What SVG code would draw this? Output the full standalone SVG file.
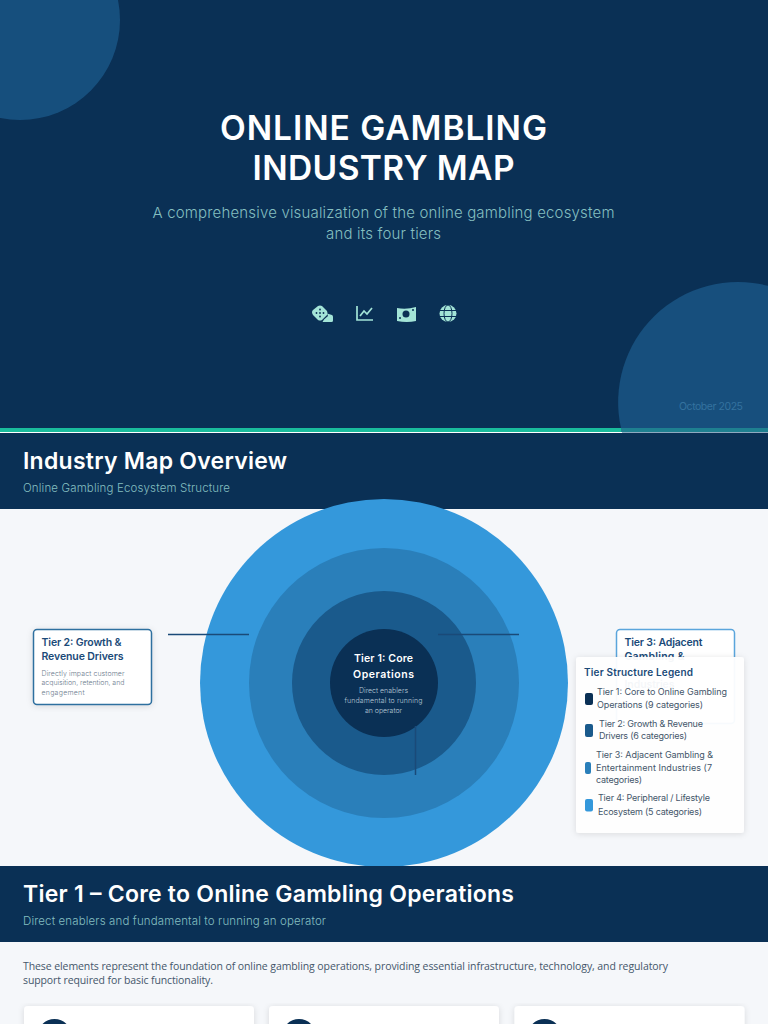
<svg xmlns="http://www.w3.org/2000/svg" width="768" height="1024" viewBox="0 0 768 1024">
<style>
text{font-family:Inter,"Noto Sans","Liberation Sans",sans-serif}
.c{text-anchor:middle}
.h{fill:#fff;font-weight:600;font-size:23px}
.sub{fill:#84bfc0;font-size:11.5px;font-weight:300}
.card{fill:#fff}
.nt{fill:#1a4a78;font-weight:600;font-size:10.5px}
.nd{fill:#6d7d8e;font-size:7px;font-weight:300}
.lg{fill:#44566a;font-size:9px;font-weight:400}
.icon{fill:#a3e4d7}
</style>
<defs>
<filter id="sh" x="-10%" y="-10%" width="120%" height="120%"><feDropShadow dx="0" dy="1" stdDeviation="3" flood-color="#000" flood-opacity=".12"/></filter>
</defs>
<rect width="768" height="1024" fill="#f5f7fa"/>
<g id="cover">
<rect width="768" height="428" fill="#0a3055"/>
<rect y="428" width="768" height="4" fill="#1abc9c"/>
<rect y="432" width="768" height="1" fill="#fff"/>
<circle cx="20" cy="20" r="100" fill="#3498db" fill-opacity=".3"/>
<path d="M621 428A120 120 0 0 1 768 285.800V428Z" fill="#174f7d"/>
<rect x="621" y="428" width="147" height="4" fill="#1e8090"/>
<rect x="622" y="432" width="146" height="1" fill="#8fa9c0"/>
<text class="c" x="383.500" y="140" fill="#fff" font-weight="600" font-size="33.500" textLength="327">ONLINE GAMBLING</text>
<text class="c" x="383.500" y="180" fill="#fff" font-weight="600" font-size="33.500" textLength="262">INDUSTRY MAP</text>
<text class="c" x="383.500" y="218" fill="#84bfc0" font-size="15" font-weight="300" textLength="462">A comprehensive visualization of the online gambling ecosystem</text>
<text class="c" x="383.500" y="239" fill="#84bfc0" font-size="15" font-weight="300" textLength="115">and its four tiers</text>
<text x="679" y="410" fill="#34729f" font-size="10.500" textLength="64">October 2025</text>
<g id="icon-dice" class="icon"><path d="M313 310l5-4q2-1 4 0l5 5q1 2 0 4l-5 5q-2 1-4 0l-5-5q-2-3 0-5Z"/><path d="M327 313.500l5 1.500q1 .5 1 2v3.500q0 1.500-1.500 1.500h-9l1.500-2.500 4-3.500Z"/><g fill="#0a3055"><circle cx="316.500" cy="313" r=".9"/><circle cx="320" cy="309.500" r=".9"/><circle cx="320" cy="313" r=".9"/><circle cx="320" cy="316.500" r=".9"/><circle cx="323.500" cy="313" r=".9"/></g></g>
<g id="icon-chart"><path d="M357 306V320H373" fill="none" stroke="#a3e4d7" stroke-width="1.700"/><path d="M360 316l4-5 3 3 5-6" fill="none" stroke="#a3e4d7" stroke-width="1.700"/></g>
<g id="icon-money" class="icon"><path d="M397 308q9 2 19-1v14q-9 2-19 0Z"/><circle cx="406" cy="314" r="3.500" fill="#0a3055"/><circle cx="400" cy="318" r="1" fill="#0a3055"/><circle cx="413" cy="310" r="1" fill="#0a3055"/></g>
<g id="icon-globe"><circle cx="448" cy="313.500" r="8.500" fill="#a3e4d7"/><g fill="none" stroke="#0a3055" stroke-width="1"><ellipse cx="448" cy="313.500" rx="4" ry="8.500"/><path d="M440 310.500H456M440 316.500H456"/></g></g>
</g>
<g id="overview-header">
<rect y="433" width="768" height="76" fill="#0a3055"/>
<text class="h" x="23" y="469" textLength="264">Industry Map Overview</text>
<text class="sub" x="23" y="492" textLength="207">Online Gambling Ecosystem Structure</text>
</g>
<g id="tier4"><circle cx="384" cy="683" r="184" fill="#3498db"/></g>
<g id="tier3"><circle cx="384" cy="683" r="135" fill="#2a7fba"/></g>
<g id="tier2"><circle cx="384" cy="683" r="92" fill="#1a5a8c"/></g>
<g id="tier1">
<circle cx="384" cy="683" r="54" fill="#0a3055"/>
<text class="c" x="383.500" y="662" fill="#fff" font-weight="600" font-size="10.500" textLength="59">Tier 1: Core</text>
<text class="c" x="383.500" y="678" fill="#fff" font-weight="600" font-size="10.500" textLength="61">Operations</text>
<text class="c" x="383.500" y="693" fill="#b9c8d6" font-size="7" font-weight="300" textLength="49">Direct enablers</text>
<text class="c" x="383.500" y="703" fill="#b9c8d6" font-size="7" font-weight="300" textLength="78">fundamental to running</text>
<text class="c" x="383.500" y="713" fill="#b9c8d6" font-size="7" font-weight="300" textLength="37">an operator</text>
</g>
<g id="connectors" stroke="#1a4a78" stroke-width="1.500" fill="none">
<path d="M168 634.500H249"/>
<path d="M438 634.500H519"/>
<path d="M415.500 726V775"/>
</g>
<g id="tier2-card">
<rect x="33.500" y="629.500" width="118" height="75" rx="3.500" fill="#fff" stroke="#2f6f9f" stroke-width="1.500" filter="url(#sh)"/>
<text class="nt" x="41.500" y="646" textLength="80">Tier 2: Growth &amp;</text>
<text class="nt" x="41.500" y="660" textLength="82">Revenue Drivers</text>
<text class="nd" x="41.500" y="676" textLength="83">Directly impact customer</text>
<text class="nd" x="41.500" y="685" textLength="83">acquisition, retention, and</text>
<text class="nd" x="41.500" y="695" textLength="43">engagement</text>
</g>
<g id="tier3-card">
<rect x="616.500" y="629.500" width="118" height="94" rx="3.500" fill="#fff" stroke="#5aa5dc" stroke-width="1.500"/>
<text class="nt" x="624.500" y="646" textLength="78">Tier 3: Adjacent</text>
<text class="nt" x="624.500" y="660" textLength="60">Gambling &amp;</text>
<text class="nt" x="624.500" y="688" textLength="50">Industries</text>
</g>
<g id="legend">
<rect x="576" y="657" width="168" height="176" rx="3" fill="#fff" fill-opacity=".95" filter="url(#sh)"/>
<text x="584" y="676" fill="#1a4a78" font-weight="600" font-size="10" textLength="109">Tier Structure Legend</text>
<rect x="585" y="693" width="8" height="12" rx="2" fill="#0a3055"/>
<text class="lg" x="597" y="695" textLength="130">Tier 1: Core to Online Gambling</text>
<text class="lg" x="597" y="708" textLength="106">Operations (9 categories)</text>
<rect x="585" y="724" width="8" height="13" rx="2" fill="#1a5a8c"/>
<text class="lg" x="599" y="727" textLength="104">Tier 2: Growth &amp; Revenue</text>
<text class="lg" x="599" y="739" textLength="88">Drivers (6 categories)</text>
<rect x="585" y="762" width="6" height="12" rx="2" fill="#2a7fba"/>
<text class="lg" x="596" y="758" textLength="117">Tier 3: Adjacent Gambling &amp;</text>
<text class="lg" x="596" y="771" textLength="116">Entertainment Industries (7</text>
<text class="lg" x="596" y="783" textLength="46">categories)</text>
<rect x="585" y="799" width="8" height="12.500" rx="2" fill="#3498db"/>
<text class="lg" x="598" y="801" textLength="112">Tier 4: Peripheral / Lifestyle</text>
<text class="lg" x="598" y="815" textLength="104">Ecosystem (5 categories)</text>
</g>
<g id="tier1-header">
<rect y="866" width="768" height="76" fill="#0a3055"/>
<text class="h" x="23" y="902" textLength="491">Tier 1 – Core to Online Gambling Operations</text>
<text class="sub" x="23" y="925" textLength="303">Direct enablers and fundamental to running an operator</text>
</g>
<g id="intro">
<text x="23" y="970" fill="#44566a" font-size="10.500" style="font-family:'Open Sans',sans-serif" textLength="645">These elements represent the foundation of online gambling operations, providing essential infrastructure, technology, and regulatory</text>
<text x="23" y="984" fill="#44566a" font-size="10.500" style="font-family:'Open Sans',sans-serif" textLength="190">support required for basic functionality.</text>
</g>
<g id="card-1"><rect x="24" y="1006" width="230" height="30" rx="4" class="card" filter="url(#sh)"/><circle cx="54.500" cy="1036" r="17" fill="#0a3055"/></g>
<g id="card-2"><rect x="269" y="1006" width="230" height="30" rx="4" class="card" filter="url(#sh)"/><circle cx="299" cy="1036" r="17" fill="#0a3055"/></g>
<g id="card-3"><rect x="514.500" y="1006" width="230" height="30" rx="4" class="card" filter="url(#sh)"/><circle cx="544.500" cy="1036" r="17" fill="#0a3055"/></g>
</svg>
